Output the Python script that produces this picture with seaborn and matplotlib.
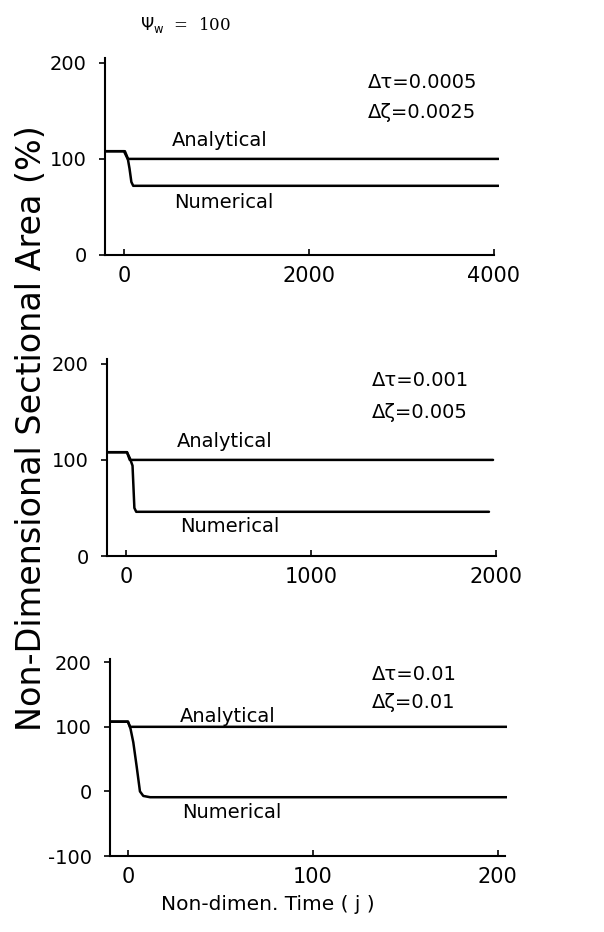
import numpy as np
import pandas as pd
import matplotlib
matplotlib.use("Agg")
import matplotlib.pyplot as plt
import seaborn as sns

sns.set_theme(style="ticks")
plt.rcParams['font.family'] = ['DejaVu Sans']
plt.rcParams['text.color'] = 'black'
plt.rcParams['axes.unicode_minus'] = False

# ---- data ----
# Panel 1: dtau=0.0005, dzeta=0.0025
p1_ana_x = [-205, 0, 40, 4050]
p1_ana_y = [108, 108, 100, 100]
p1_num_x = [-205, 10, 40, 60, 80, 100, 150, 4050]
p1_num_y = [108, 108, 101, 90, 76, 72, 72, 72]
# Panel 2: dtau=0.001, dzeta=0.005
p2_ana_x = [-103, 5, 20, 1984]
p2_ana_y = [108, 108, 100, 100]
p2_num_x = [-103, 5, 20, 35, 40, 45, 55, 1962]
p2_num_y = [108, 108, 102, 94, 72, 50, 46, 46]
# Panel 3: dtau=0.01, dzeta=0.01
p3_ana_x = [-9.7, 0, 1.2, 205]
p3_ana_y = [108, 108, 100, 100]
p3_num_x = [-9.7, 0, 1.4, 2.9, 4.7, 6.5, 8.3, 12, 205]
p3_num_y = [108, 108, 97, 76, 39, 0, -7, -9, -9]

x_ticks = [[0, 2000, 4000], [0, 1000, 2000], [0, 100, 200]]
y_ticks = [[0, 100, 200], [0, 100, 200], [-100, 0, 100, 200]]
dtau_labels = ["Δτ=0.0005", "Δτ=0.001", "Δτ=0.01"]
dzeta_labels = ["Δζ=0.0025", "Δζ=0.005", "Δζ=0.01"]

W, H = 604, 932
fig = plt.figure(figsize=(W / 100, H / 100), dpi=100)

def px_axes(left, right, top, bottom):
    return fig.add_axes([left / W, 1 - bottom / H, (right - left) / W, (bottom - top) / H])

panels = [
    dict(box=(105, 498.6, 58, 255), xlim=(-205, 4050), ylim=(0, 205), xb=4000,
         ana=(p1_ana_x, p1_ana_y), num=(p1_num_x, p1_num_y)),
    dict(box=(107, 496, 359, 556), xlim=(-103, 2000), ylim=(0, 205), xb=2000,
         ana=(p2_ana_x, p2_ana_y), num=(p2_num_x, p2_num_y)),
    dict(box=(110, 507, 659, 856), xlim=(-9.7, 205), ylim=(-100, 205), xb=204,
         ana=(p3_ana_x, p3_ana_y), num=(p3_num_x, p3_num_y)),
]

text_pos = [
    ((368, 82), (368, 112), (172, 141), (174, 203)),
    ((372, 381), (372, 412), (177, 442), (180, 527)),
    ((372, 675), (372, 702), (180, 716), (182, 812)),
]

def fxy(p):
    return p[0] / W, 1 - p[1] / H

for i, p in enumerate(panels):
    ax = px_axes(*p['box'])
    df_a = pd.DataFrame({'x': p['ana'][0], 'y': p['ana'][1]})
    df_n = pd.DataFrame({'x': p['num'][0], 'y': p['num'][1]})
    sns.lineplot(data=df_a, x='x', y='y', ax=ax, color='black', lw=1.8, sort=False)
    sns.lineplot(data=df_n, x='x', y='y', ax=ax, color='black', lw=1.8, sort=False)
    ax.set_xlim(*p['xlim'])
    ax.set_ylim(*p['ylim'])
    ax.set_xticks(x_ticks[i])
    ax.set_yticks(y_ticks[i])
    ax.set_xlabel('')
    ax.set_ylabel('')
    for s in ['top', 'right']:
        ax.spines[s].set_visible(False)
    for s in ['left', 'bottom']:
        ax.spines[s].set_linewidth(1.5)
        ax.spines[s].set_color('black')
    ax.spines['bottom'].set_bounds(p['xlim'][0], p['xb'])
    ax.tick_params(axis='x', direction='in', length=4, width=1.2, labelsize=15, pad=8,
                   colors='black')
    ax.tick_params(axis='y', direction='out', length=4, width=1.2, labelsize=14, pad=9,
                   colors='black')
    tp = text_pos[i]
    fig.text(*fxy(tp[0]), dtau_labels[i], fontsize=14, va='center', ha='left')
    fig.text(*fxy(tp[1]), dzeta_labels[i], fontsize=14, va='center', ha='left')
    fig.text(*fxy(tp[2]), "Analytical", fontsize=14, va='center', ha='left')
    fig.text(*fxy(tp[3]), "Numerical", fontsize=14, va='center', ha='left')

fig.text(*fxy((32, 428)), "Non-Dimensional Sectional Area (%)", fontsize=24,
         rotation=90, ha='center', va='center')
fig.text(*fxy((268, 905)), "Non-dimen. Time ( j )", fontsize=14.5, ha='center', va='center')
fig.text(*fxy((186, 25)), r"$\mathit{\Psi}_{\rm w}$  =  100", fontsize=12, ha='center',
         va='center', family='DejaVu Serif')

fig.savefig("out.png", dpi=100)
